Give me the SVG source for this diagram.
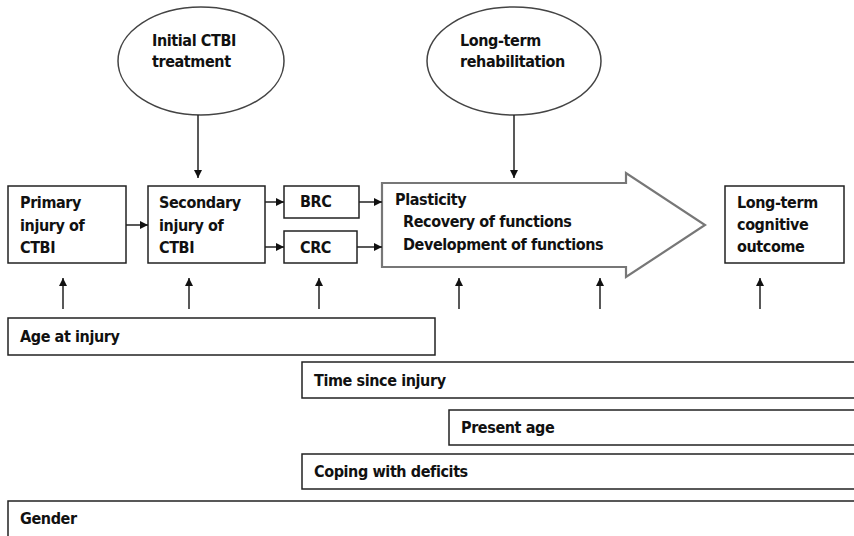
<svg xmlns="http://www.w3.org/2000/svg" width="854" height="536" viewBox="0 0 854 536">
<style>
text{font-family:"DejaVu Sans Condensed","DejaVu Sans",sans-serif;font-weight:bold;font-size:16px;letter-spacing:-0.4px;fill:#111;font-stretch:condensed}
.box{fill:#fff;stroke:#222;stroke-width:1.5}
.ell{fill:#fff;stroke:#444;stroke-width:1.5}
.big{fill:#fff;stroke:#777;stroke-width:2.2}
.c line{stroke:#222;stroke-width:1.5}
</style>
<defs>
<marker id="ah" viewBox="0 0 10 10" refX="10" refY="5" markerWidth="8" markerHeight="8" markerUnits="userSpaceOnUse" orient="auto">
<path d="M0,0 L10,5 L0,10 z" fill="#111"/>
</marker>
</defs>
<rect width="854" height="536" fill="#fff"/>
<g id="initial"><ellipse class="ell" cx="201" cy="61" rx="83" ry="54"/><text x="152" y="46">Initial CTBI</text><text x="152" y="67">treatment</text></g>
<g id="rehab"><ellipse class="ell" cx="514" cy="61" rx="87" ry="54"/><text x="460" y="46">Long-term</text><text x="460" y="67">rehabilitation</text></g>
<g id="primary"><rect class="box" x="8" y="186" width="118" height="77"/><text x="20" y="208">Primary</text><text x="20" y="231">injury of</text><text x="20" y="253">CTBI</text></g>
<g id="secondary"><rect class="box" x="148" y="186" width="117" height="77"/><text x="159" y="208">Secondary</text><text x="159" y="231">injury of</text><text x="159" y="253">CTBI</text></g>
<g id="brc"><rect class="box" x="284" y="186" width="75" height="32"/><text x="300" y="207">BRC</text></g>
<g id="crc"><rect class="box" x="284" y="231" width="73" height="32"/><text x="300" y="253">CRC</text></g>
<g id="plasticity"><polygon class="big" points="382,183 626,183 626,173 705,225 626,277 626,267 382,267"/><text x="395" y="205">Plasticity</text><text x="403" y="227">Recovery of functions</text><text x="403" y="250">Development of functions</text></g>
<g id="outcome"><rect class="box" x="725" y="186" width="119" height="77"/><text x="737" y="208">Long-term</text><text x="737" y="230">cognitive</text><text x="737" y="252">outcome</text></g>
<g id="age"><rect class="box" x="8" y="318" width="427" height="37"/><text x="20" y="342">Age at injury</text></g>
<g id="time"><rect class="box" x="302" y="362" width="560" height="36"/><text x="314" y="386">Time since injury</text></g>
<g id="present"><rect class="box" x="449" y="410" width="420" height="35"/><text x="461" y="433">Present age</text></g>
<g id="coping"><rect class="box" x="302" y="454" width="560" height="35"/><text x="314" y="477">Coping with deficits</text></g>
<g id="gender"><rect class="box" x="8" y="501" width="860" height="50"/><text x="20" y="524">Gender</text></g>
<g class="c" id="connectors">
<line x1="198" y1="115" x2="198" y2="178" marker-end="url(#ah)"/>
<line x1="514" y1="115" x2="514" y2="178" marker-end="url(#ah)"/>
<line x1="126" y1="225" x2="148" y2="225" marker-end="url(#ah)"/>
<line x1="265" y1="202" x2="284" y2="202" marker-end="url(#ah)"/>
<line x1="265" y1="247" x2="284" y2="247" marker-end="url(#ah)"/>
<line x1="359" y1="202" x2="382" y2="202" marker-end="url(#ah)"/>
<line x1="357" y1="247" x2="382" y2="247" marker-end="url(#ah)"/>
<line x1="63" y1="309" x2="63" y2="278" marker-end="url(#ah)"/>
<line x1="189" y1="309" x2="189" y2="278" marker-end="url(#ah)"/>
<line x1="319" y1="309" x2="319" y2="278" marker-end="url(#ah)"/>
<line x1="459" y1="309" x2="459" y2="278" marker-end="url(#ah)"/>
<line x1="600" y1="309" x2="600" y2="278" marker-end="url(#ah)"/>
<line x1="760" y1="309" x2="760" y2="278" marker-end="url(#ah)"/>
</g>
</svg>
